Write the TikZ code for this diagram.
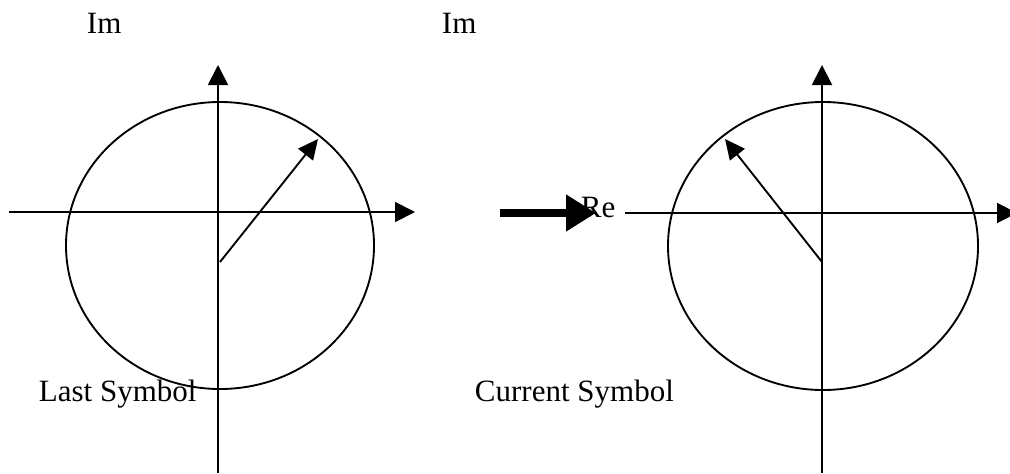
\documentclass[tikz,border=0pt]{standalone}
\usepackage{fontspec}
\setmainfont{Liberation Serif}
\usetikzlibrary{arrows.meta,positioning}

\begin{document}
\begin{tikzpicture}[x=0.4pt, y=-0.4pt, line width=0.75pt,
    every node/.style={font=\fontsize{12.4}{14}\selectfont, inner sep=0pt},
    axis/.style={-{Triangle[length=8pt,width=8pt]}},
    vec/.style={-{Triangle[length=8pt,width=7.5pt]}},
    bigarrow/.style={line width=3.2pt, -{Triangle[length=12pt,width=14pt]}}]
    \useasboundingbox (0,0) rectangle (1010,473);
    % Last symbol (left plane)
    \coordinate (lw) at (9,212);
    \coordinate (le) at (415,212);
    \coordinate (ls) at (218,473);
    \coordinate (ln) at (218,65);
    \coordinate (lo) at (220,262);
    \coordinate (lp) at (318,139);
    \draw (220,245.5) ellipse [x radius=154, y radius=143.5];
    \draw[axis] (lw) -- (le);
    \draw[axis] (ls) -- (ln);
    \draw[vec] (lo) -- (lp);
    \node[anchor=base west] (imleft) at (86,33) {Im};
    \node[anchor=base west] (lastlab) at (38,401) {Last Symbol};
    % Current symbol (right plane)
    \coordinate (rw) at (625,213);
    \coordinate (re) at (1017,213);
    \coordinate (rs) at (822,473);
    \coordinate (rn) at (822,65);
    \coordinate (ro) at (822,262);
    \coordinate (rp) at (725,139);
    \draw (823,246) ellipse [x radius=155, y radius=144];
    \draw[axis] (rw) -- (re);
    \draw[axis] (rs) -- (rn);
    \draw[vec] (ro) -- (rp);
    \node[anchor=base west] (imright) at (441,33) {Im};
    \node[anchor=base west] (relab) at (580,217) {Re};
    \node[anchor=base west] (curlab) at (474,401) {Current Symbol};
    % Transition arrow
    \coordinate (ta) at (500,213);
    \coordinate (tb) at (596,213);
    \draw[bigarrow] (ta) -- (tb);
\end{tikzpicture}
\end{document}
